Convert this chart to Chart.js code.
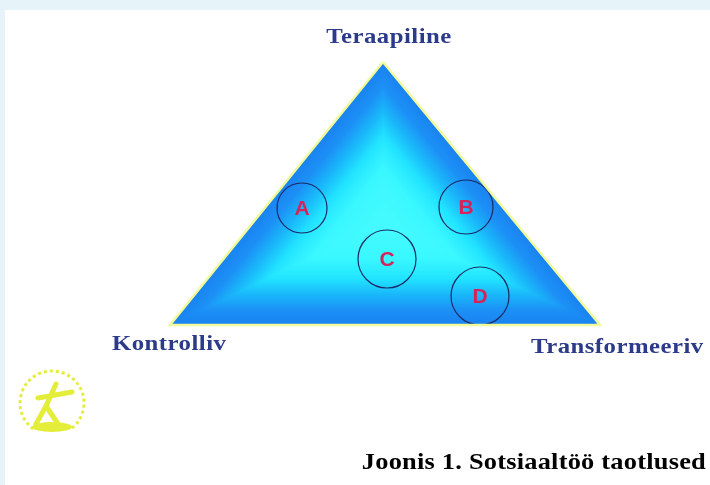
<!DOCTYPE html>
<html>
<head>
<meta charset="utf-8">
<script src="https://cdn.jsdelivr.net/npm/chart.js@4.4.1/dist/chart.umd.min.js"></script>
<style>
  html, body { margin: 0; padding: 0; background: #e6f4fa; }
  #wrap { width: 710px; height: 485px; }
</style>
</head>
<body>
<div id="wrap"><canvas id="chart-triangle" width="710" height="485"></canvas></div>
<script>
// ── triangle corners (picture coords, y down) ──
const cornerLabels = ['Teraapiline', 'Kontrolliv', 'Transformeeriv'];
const cornerX = [383, 170, 600];
const cornerY = [62, 325, 325];

// ── circles inside the triangle ──
const circleLabels = ['A', 'B', 'C', 'D'];
const circleX = [302, 466, 387, 480];
const circleY = [208, 207, 259, 296];
const circleR = [25, 27, 29, 29];

const caption = 'Joonis 1. Sotsiaaltöö taotlused';

const colors = {
  frame:  '#e6f4fa',
  navy:   '#2b3a8a',
  ring:   '#1c2a66',
  letter: '#d3245c',
  edge:   '#f2fb9c',
  logo:   '#e4ee3a',
};

const trianglePoints = cornerX.map((x, i) => ({ x, y: cornerY[i] }));
trianglePoints.push({ x: cornerX[0], y: cornerY[0] });

// background + white sheet
const sheetPlugin = {
  id: 'sheet',
  beforeDraw(chart) {
    const { ctx, width, height } = chart;
    ctx.save();
    ctx.fillStyle = colors.frame;
    ctx.fillRect(0, 0, width, height);
    ctx.fillStyle = '#ffffff';
    ctx.fillRect(5, 10, width - 5, height - 10);
    ctx.restore();
  }
};

// colour ramp by distance from the triangle edge (px)
const ramp = [
  [0,  [26, 132, 240]],
  [14, [28, 144, 246]],
  [30, [26, 184, 250]],
  [46, [34, 228, 255]],
  [66, [58, 248, 255]],
  [120, [76, 252, 255]],
];
function rampColor(d) {
  for (let i = 1; i < ramp.length; i++) {
    if (d <= ramp[i][0]) {
      const [d0, c0] = ramp[i - 1], [d1, c1] = ramp[i];
      const t = (d - d0) / (d1 - d0);
      const c = c0.map((v, k) => Math.round(v + (c1[k] - v) * t));
      return `rgb(${c[0]},${c[1]},${c[2]})`;
    }
  }
  const c = ramp[ramp.length - 1][1];
  return `rgb(${c[0]},${c[1]},${c[2]})`;
}

// shape-burst fill of the triangle, from the line element's points
const fillPlugin = {
  id: 'triFill',
  beforeDatasetsDraw(chart) {
    const p = chart.getDatasetMeta(0).data.slice(0, 3);
    const { ctx } = chart;
    const len = (u, v) => Math.hypot(u.x - v.x, u.y - v.y);
    const a = len(p[1], p[2]), b = len(p[0], p[2]), c = len(p[0], p[1]);
    const per = a + b + c;
    const ix = (a * p[0].x + b * p[1].x + c * p[2].x) / per;
    const iy = (a * p[0].y + b * p[1].y + c * p[2].y) / per;
    const area = Math.abs((p[1].x - p[0].x) * (p[2].y - p[0].y) - (p[2].x - p[0].x) * (p[1].y - p[0].y)) / 2;
    const inR = area / (per / 2);
    const steps = 80;
    ctx.save();
    for (let k = 0; k < steps; k++) {
      const s = 1 - k / steps;
      ctx.beginPath();
      p.forEach((q, i) => {
        const x = ix + (q.x - ix) * s, y = iy + (q.y - iy) * s;
        i ? ctx.lineTo(x, y) : ctx.moveTo(x, y);
      });
      ctx.closePath();
      ctx.fillStyle = rampColor((1 - s) * inR);
      ctx.fill();
    }
    ctx.restore();
  }
};

// draw text stretched sideways (the original type is wide)
function wideText(ctx, text, x, y, align, sx) {
  const w = ctx.measureText(text).width * sx;
  const left = align === 'center' ? x - w / 2 : align === 'right' ? x - w : x;
  ctx.save();
  ctx.textAlign = 'left';
  ctx.translate(left, y);
  ctx.scale(sx, 1);
  ctx.fillText(text, 0, 0);
  ctx.restore();
}

// text: corner names, circle letters, caption, logo
const textPlugin = {
  id: 'texts',
  afterDatasetsDraw(chart) {
    const { ctx } = chart;
    const tri = chart.getDatasetMeta(0).data;
    const circ = chart.getDatasetMeta(1).data;
    ctx.save();
    ctx.textBaseline = 'middle';

    ctx.fillStyle = colors.navy;
    ctx.font = 'bold 21px "Liberation Serif", serif';
    ctx.letterSpacing = '0.4px';
    wideText(ctx, cornerLabels[0], tri[0].x + 6, tri[0].y - 24, 'center', 1.18);
    wideText(ctx, cornerLabels[1], tri[1].x - 58, tri[1].y + 20, 'left', 1.18);
    wideText(ctx, cornerLabels[2], tri[2].x - 69, tri[2].y + 23, 'left', 1.18);

    ctx.letterSpacing = '0px';
    ctx.fillStyle = colors.letter;
    ctx.font = 'bold 21px "Liberation Sans", Arial, sans-serif';
    ctx.textAlign = 'center';
    circ.forEach((p, i) => ctx.fillText(circleLabels[i], p.x, p.y + 1));

    ctx.fillStyle = '#000000';
    ctx.font = 'bold 24px "Liberation Serif", serif';
    ctx.letterSpacing = '0.2px';
    wideText(ctx, caption, 706, 463, 'right', 1.1);
    ctx.letterSpacing = '0px';

    // little yellow emblem, bottom left
    ctx.strokeStyle = colors.logo;
    ctx.fillStyle = colors.logo;
    ctx.lineWidth = 3;
    ctx.setLineDash([3, 3]);
    ctx.beginPath();
    ctx.arc(52, 403, 32, Math.PI * 0.7, Math.PI * 2.3);
    ctx.stroke();
    ctx.setLineDash([]);
    ctx.lineWidth = 5;
    ctx.lineCap = 'round';
    ctx.beginPath();
    ctx.moveTo(56, 384); ctx.lineTo(46, 406); ctx.lineTo(36, 424);
    ctx.moveTo(46, 406); ctx.lineTo(58, 424);
    ctx.moveTo(38, 398); ctx.lineTo(72, 392);
    ctx.stroke();
    ctx.beginPath();
    ctx.ellipse(52, 427, 20, 5, 0, 0, Math.PI * 2);
    ctx.fill();
    ctx.restore();
  }
};

new Chart(document.getElementById('chart-triangle'), {
  type: 'scatter',
  data: {
    datasets: [{
      type: 'line',
      data: trianglePoints,
      borderColor: colors.edge,
      borderWidth: 2.5,
      borderJoinStyle: 'miter',
      pointRadius: 0,
      fill: false,
    }, {
      type: 'bubble',
      data: circleX.map((x, i) => ({ x, y: circleY[i], r: circleR[i] })),
      backgroundColor: 'rgba(0,0,0,0)',
      borderColor: colors.ring,
      borderWidth: 1.2,
    }]
  },
  options: {
    responsive: false,
    animation: false,
    events: [],
    layout: { padding: 0, autoPadding: false },
    plugins: { legend: { display: false }, tooltip: { enabled: false } },
    scales: {
      x: { type: 'linear', display: false, min: 0, max: 710 },
      y: { type: 'linear', display: false, min: 0, max: 485, reverse: true }
    }
  },
  plugins: [sheetPlugin, fillPlugin, textPlugin]
});
</script>
</body>
</html>
